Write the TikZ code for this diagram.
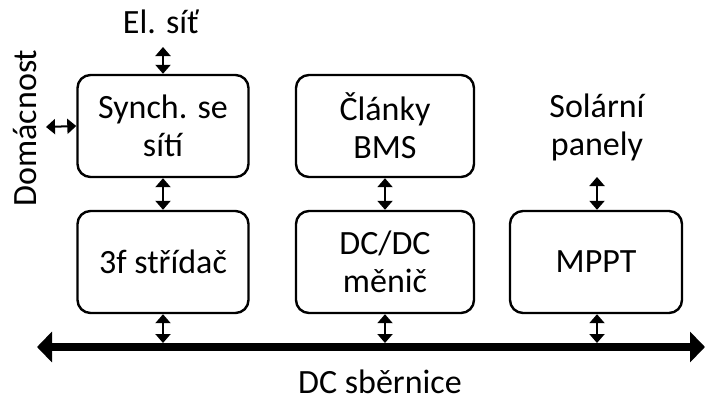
\documentclass[tikz,border=0pt]{standalone}
\usepackage{fontspec}
\setmainfont{Carlito}
\usetikzlibrary{arrows.meta}
\begin{document}
\begin{tikzpicture}[x=1pt,y=-1pt,
  block/.style={draw,line width=2.4pt,rounded corners=13pt,align=center,
    font=\fontsize{34}{38}\selectfont,inner sep=0pt},
  lbl/.style={align=center,font=\fontsize{34}{38}\selectfont,inner sep=0pt},
  biarrow/.style={line width=2pt,{Triangle[width=15pt,length=9pt]}-{Triangle[width=15pt,length=9pt]}},
  bus/.style={line width=8pt,{Triangle[width=30pt,length=15pt]}-{Triangle[width=30pt,length=15pt]}}]
\useasboundingbox (0,0) rectangle (706,399);

% blocks
\node[block,minimum width=171pt,minimum height=102pt] (sync) at (163,126) {Synch. se\\sítí};
\node[block,minimum width=171pt,minimum height=102pt] (inv)  at (163,262) {3f střídač};
\node[block,minimum width=178pt,minimum height=102pt] (bms)  at (385,126) {Články\\BMS};
\node[block,minimum width=178pt,minimum height=102pt] (dcdc) at (385,262) {DC/DC\\měnič};
\node[block,minimum width=172pt,minimum height=102pt] (mppt) at (596,262) {MPPT};

% outside labels
\node[lbl] (grid)  at (161,22) {El. síť};
\node[lbl,rotate=90] (home) at (25,128) {Domácnost};
\node[lbl] (solar) at (597,127) {Solární\\panely};
\node[lbl,anchor=base] (buslbl) at (380,393) {DC sběrnice};

% free ends of the connectors
\coordinate (gridend)  at (163,47);
\coordinate (homeend)  at (46,127);
\coordinate (solarend) at (597,177);
\coordinate (busL) at (37,347);
\coordinate (busR) at (705,347);
\coordinate (tapA) at (163,343);
\coordinate (tapB) at (385,343);
\coordinate (tapC) at (597,343);

% DC bus
\draw[bus] (busL) -- (busR);

% connectors
\draw[biarrow] (gridend) -- (sync.north);
\draw[biarrow] (homeend) -- (sync.west);
\draw[biarrow] (sync) -- (inv);
\draw[biarrow] (bms) -- (dcdc);
\draw[biarrow] (solarend) -- (mppt.north -| solarend);
\draw[biarrow] (inv) -- (tapA);
\draw[biarrow] (dcdc) -- (tapB);
\draw[biarrow] (mppt.south -| tapC) -- (tapC);
\end{tikzpicture}
\end{document}
